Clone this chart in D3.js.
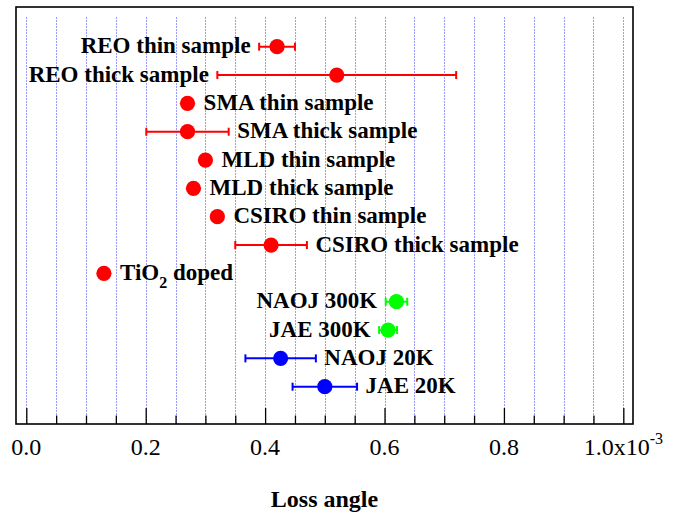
<!DOCTYPE html>
<html>
<head>
<meta charset="utf-8">
<script src="https://cdn.jsdelivr.net/npm/d3@7"></script>
<style>
  html, body { margin: 0; padding: 0; background: #fff; }
  svg { display: block; }
</style>
</head>
<body>
<svg id="chart" width="676" height="512"></svg>
<script>
// ---- data (loss angle in units of 1e-3) ----
const categories = [
  "REO thin sample", "REO thick sample", "SMA thin sample", "SMA thick sample",
  "MLD thin sample", "MLD thick sample", "CSIRO thin sample", "CSIRO thick sample",
  "TiO2 doped", "NAOJ 300K", "JAE 300K", "NAOJ 20K", "JAE 20K"
];
const values = [0.42, 0.52, 0.27, 0.27, 0.30, 0.28, 0.32, 0.41, 0.13, 0.62, 0.606, 0.426, 0.50];
const errors = [0.030, 0.200, 0, 0.069, 0, 0, 0, 0.060, 0, 0.018, 0.015, 0.059, 0.054];
const groups = ["sample", "sample", "sample", "sample", "sample", "sample", "sample", "sample",
                "sample", "300K", "300K", "20K", "20K"];
const labelSide = ["left", "left", "right", "right", "right", "right", "right", "right",
                   "right", "left", "left", "right", "right"];
const majorTicks = [0.0, 0.2, 0.4, 0.6, 0.8, 1.0];
const tickLabels = ["0.0", "0.2", "0.4", "0.6", "0.8", "1.0x10"];
const exponentLabel = "-3";
const xTitle = "Loss angle";

// ---- layout ----
const svg = d3.select("#chart");
const frame = { left: 16, right: 633, top: 7, bottom: 424 };
const colorOf = d3.scaleOrdinal().domain(["sample", "300K", "20K"]).range(["#ff0000", "#00ff00", "#0000ff"]);

const x = d3.scaleLinear().domain([-0.01725, 1.0162]).range([frame.left, frame.right]);
const y = d3.scalePoint().domain(categories).range([46.7, 386.7]);

const serif = "'Liberation Serif', 'Times New Roman', serif";

// grid lines every 0.05
const gridVals = d3.range(0, 1.0001, 0.05);
svg.append("g").selectAll("line").data(gridVals).join("line")
  .attr("x1", d => Math.round(x(d)) + 0.5).attr("x2", d => Math.round(x(d)) + 0.5)
  .attr("y1", 17).attr("y2", frame.bottom)
  .attr("stroke", "#9c9cff")
  .attr("stroke-width", 1).attr("stroke-dasharray", "2,1");

// frame
svg.append("rect")
  .attr("x", frame.left).attr("y", frame.top)
  .attr("width", frame.right - frame.left).attr("height", frame.bottom - frame.top)
  .attr("fill", "none").attr("stroke", "#000").attr("stroke-width", 1.6);

// axis ticks
const minorVals = gridVals.filter(v => !majorTicks.some(m => Math.abs(m - v) < 1e-6));
const axisG = svg.append("g").attr("transform", `translate(0,${frame.bottom})`);
const axisMajor = d3.axisBottom(x).tickValues(majorTicks).tickSizeInner(-16).tickSizeOuter(0).tickFormat("");
const axisMinor = d3.axisBottom(x).tickValues(minorVals).tickSizeInner(-8.5).tickSizeOuter(0).tickFormat("");
axisG.append("g").call(axisMinor);
axisG.append("g").call(axisMajor);
axisG.selectAll(".domain").remove();
axisG.selectAll(".tick line").attr("stroke", "#000").attr("stroke-width", 1.3);

// tick labels
const lab = svg.append("g").selectAll("text").data(majorTicks).join("text")
  .attr("x", d => x(d)).attr("y", 455)
  .attr("text-anchor", "middle")
  .attr("font-family", serif).attr("font-size", 24).attr("fill", "#000")
  .text((d, i) => tickLabels[i]);
lab.filter((d, i) => i === majorTicks.length - 1)
  .append("tspan").attr("dy", -11).attr("font-size", 16).text(exponentLabel);

// axis title
svg.append("text")
  .attr("x", (frame.left + frame.right) / 2).attr("y", 507)
  .attr("text-anchor", "middle")
  .attr("font-family", serif).attr("font-size", 24).attr("font-weight", "bold")
  .text(xTitle);

// data
const data = categories.map((c, i) => ({
  name: c, v: values[i], e: errors[i], g: groups[i], side: labelSide[i]
}));

const pts = svg.append("g").selectAll("g").data(data).join("g");
const eb = pts.filter(d => d.e > 0);
eb.append("line")
  .attr("x1", d => x(d.v - d.e)).attr("x2", d => x(d.v + d.e))
  .attr("y1", d => y(d.name)).attr("y2", d => y(d.name))
  .attr("stroke", d => colorOf(d.g)).attr("stroke-width", 2);
eb.append("line")
  .attr("x1", d => x(d.v - d.e)).attr("x2", d => x(d.v - d.e))
  .attr("y1", d => y(d.name) - 4).attr("y2", d => y(d.name) + 4)
  .attr("stroke", d => colorOf(d.g)).attr("stroke-width", 2);
eb.append("line")
  .attr("x1", d => x(d.v + d.e)).attr("x2", d => x(d.v + d.e))
  .attr("y1", d => y(d.name) - 4).attr("y2", d => y(d.name) + 4)
  .attr("stroke", d => colorOf(d.g)).attr("stroke-width", 2);
pts.append("circle")
  .attr("cx", d => x(d.v)).attr("cy", d => y(d.name)).attr("r", 7.6)
  .attr("fill", d => colorOf(d.g));

// labels
const R = 7.6, gap = 8.5;
const labels = pts.append("text")
  .attr("font-family", serif).attr("font-size", 23).attr("font-weight", "bold").attr("fill", "#000")
  .attr("y", d => y(d.name) + 6.5)
  .attr("text-anchor", d => d.side === "left" ? "end" : "start")
  .attr("x", d => {
    const half = Math.max(x(d.v + d.e) - x(d.v), R);
    return d.side === "left" ? x(d.v) - half - gap : x(d.v) + half + gap;
  });
labels.each(function(d) {
  const t = d3.select(this);
  if (d.name.startsWith("TiO2")) {
    t.append("tspan").text("TiO");
    t.append("tspan").attr("dy", 8).attr("font-size", 16).text("2");
    t.append("tspan").attr("dy", -8).text(" doped");
  } else {
    t.text(d.name);
  }
});
</script>
</body>
</html>
